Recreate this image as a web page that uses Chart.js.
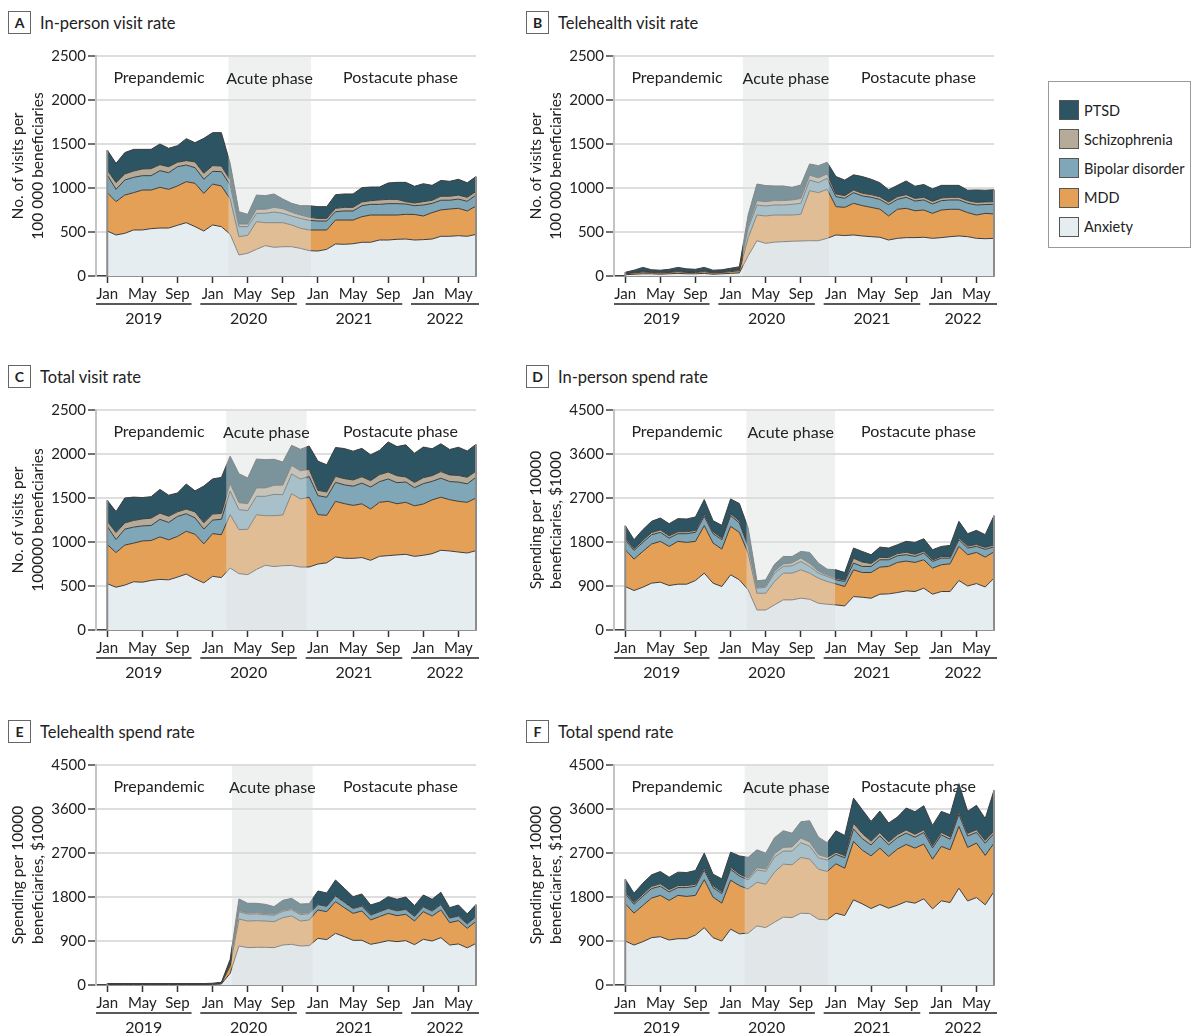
<!DOCTYPE html>
<html><head><meta charset="utf-8">
<script src="https://cdn.jsdelivr.net/npm/chart.js@4.4.1/dist/chart.umd.min.js"></script>
<style>
body{margin:0;background:#fff;width:1191px;height:1036px;position:relative;overflow:hidden;font-family:Lato,'Noto Sans',sans-serif;color:#222}
.ptitle{position:absolute;display:flex;align-items:center;font-size:16.5px;height:23px;white-space:nowrap}
.ptitle .box{width:21px;height:21px;border:1px solid #666;display:flex;align-items:center;justify-content:center;font-weight:bold;font-size:14px;margin-right:9px}
canvas{position:absolute}
.legend{position:absolute;left:1048px;top:81px;width:143px;height:167px;border:1px solid #9a9a9a;box-sizing:border-box}
.legend .item{position:absolute;left:10px;display:flex;align-items:center;font-size:14.5px;height:20px;white-space:nowrap}
.legend .sw{width:18px;height:18px;border:1px solid #555;margin-right:5px}
</style></head>
<body>
<div class="ptitle" style="left:8px;top:11px"><div class="box">A</div>In-person visit rate</div>
<div class="ptitle" style="left:526px;top:11px"><div class="box">B</div>Telehealth visit rate</div>
<div class="ptitle" style="left:8px;top:365px"><div class="box">C</div>Total visit rate</div>
<div class="ptitle" style="left:526px;top:365px"><div class="box">D</div>In-person spend rate</div>
<div class="ptitle" style="left:8px;top:720px"><div class="box">E</div>Telehealth spend rate</div>
<div class="ptitle" style="left:526px;top:720px"><div class="box">F</div>Total spend rate</div>

<canvas id="cA" width="500" height="300" style="left:0;top:40px"></canvas>
<canvas id="cB" width="500" height="300" style="left:518px;top:40px"></canvas>
<canvas id="cC" width="500" height="300" style="left:0;top:394px"></canvas>
<canvas id="cD" width="500" height="300" style="left:518px;top:394px"></canvas>
<canvas id="cE" width="500" height="300" style="left:0;top:749px"></canvas>
<canvas id="cF" width="500" height="300" style="left:518px;top:749px"></canvas>

<div class="legend" id="legend"></div>

<script>
// ---------- categories ----------
const monthLabels = ['Jan 2019','Feb 2019','Mar 2019','Apr 2019','May 2019','Jun 2019','Jul 2019','Aug 2019','Sep 2019','Oct 2019','Nov 2019','Dec 2019',
 'Jan 2020','Feb 2020','Mar 2020','Apr 2020','May 2020','Jun 2020','Jul 2020','Aug 2020','Sep 2020','Oct 2020','Nov 2020','Dec 2020',
 'Jan 2021','Feb 2021','Mar 2021','Apr 2021','May 2021','Jun 2021','Jul 2021','Aug 2021','Sep 2021','Oct 2021','Nov 2021','Dec 2021',
 'Jan 2022','Feb 2022','Mar 2022','Apr 2022','May 2022','Jun 2022','Jul 2022'];
const monthNames = ['Jan','Feb','Mar','Apr','May','Jun','Jul','Aug','Sep','Oct','Nov','Dec'];
const tickMonths = [0,4,8,12,16,20,24,28,32,36,40];
const yearLabels = ['2019','2020','2021','2022'];
const seriesNames = ['Anxiety','MDD','Bipolar disorder','Schizophrenia','PTSD'];
const visitTicks = [0,500,1000,1500,2000,2500];
const spendTicks = [0,900,1800,2700,3600,4500];

// ---------- A: in-person visit rate ----------
const aAnxiety = [511,466,485,523,523,538,545,545,576,606,561,511,580,561,474,239,258,303,345,326,333,333,314,288,284,303,364,360,367,383,383,409,409,417,420,409,413,420,451,451,458,451,473];
const aMDD = [436,379,435,424,454,439,463,440,447,466,492,428,465,462,401,208,204,314,261,280,273,247,228,235,239,220,272,276,269,291,310,284,284,276,281,290,269,300,300,310,311,288,322];
const aBipolar = [201,140,171,174,163,163,189,189,219,189,178,160,144,163,159,114,99,95,106,121,106,102,113,110,102,102,95,103,103,125,121,121,129,129,117,100,125,105,110,100,105,110,125];
const aSchizophrenia = [57,76,68,72,76,80,68,68,50,50,65,68,65,64,57,30,30,46,46,53,53,42,38,34,30,30,38,41,41,42,42,50,49,49,27,30,38,35,45,45,45,45,40];
const aPTSD = [227,219,243,246,223,219,235,209,189,250,219,397,375,379,189,140,110,162,155,152,110,102,106,132,133,133,155,152,152,163,155,147,186,193,219,190,204,170,180,170,180,165,170];

// ---------- B: telehealth visit rate ----------
const bAnxiety = [15,20,25,25,20,25,30,25,25,30,20,25,30,35,230,401,371,385,390,395,398,401,401,428,466,460,466,455,447,440,409,428,436,436,440,428,436,447,455,447,428,424,428];
const bMDD = [10,15,20,15,15,15,20,15,15,20,15,15,20,25,205,292,311,308,303,298,303,569,546,557,322,320,360,345,333,320,273,330,333,306,310,284,314,311,303,273,265,288,277];
const bBipolar = [5,8,10,8,8,8,10,8,8,10,8,8,10,12,110,114,113,114,114,121,125,121,114,125,114,103,121,110,115,110,129,113,125,110,114,106,106,106,106,106,114,100,110];
const bSchizophrenia = [2,3,3,3,3,3,3,3,3,3,3,3,3,3,30,49,50,50,50,50,55,55,55,50,30,30,30,30,30,30,30,30,30,30,30,30,30,30,30,30,30,30,30];
const bPTSD = [10,20,40,20,20,25,35,30,25,35,20,20,25,30,120,189,182,166,166,144,153,127,138,132,198,177,173,190,175,160,139,129,156,138,146,142,144,136,136,119,141,133,135];

// ---------- C: total visit rate ----------
const cAnxiety = [526,486,510,548,543,563,575,570,601,636,581,536,610,596,704,640,629,688,735,721,731,734,715,716,750,763,830,815,814,823,792,837,845,853,860,837,849,867,906,898,886,875,901];
const cMDD = [446,394,455,439,469,454,483,455,462,486,507,443,485,487,606,500,515,622,564,578,576,816,774,792,561,540,632,621,602,611,583,614,617,582,591,574,583,611,603,583,576,576,599];
const cBipolar = [206,148,181,182,171,171,199,197,227,199,186,168,154,175,269,228,212,209,220,242,231,223,227,235,216,205,216,213,218,235,250,234,254,239,231,206,231,211,216,206,219,210,235];
const cSchizophrenia = [59,79,71,75,79,83,71,71,53,53,68,71,68,67,87,79,80,96,96,103,108,97,93,84,60,60,68,71,71,72,72,80,79,79,57,60,68,65,75,75,75,75,70];
const cPTSD = [237,239,283,266,243,244,270,239,214,285,239,417,400,409,309,329,292,328,321,296,263,229,244,264,331,310,328,342,327,323,294,276,342,331,365,332,348,306,316,289,321,298,305];

// ---------- D: in-person spend rate ----------
const dAnxiety = [889,807,875,958,978,910,937,937,1012,1163,958,889,1129,1026,821,410,410,513,616,616,650,629,547,527,513,492,684,670,650,732,739,766,800,787,855,732,787,787,1012,900,950,880,1060];
const dMDD = [753,643,732,800,835,800,876,855,801,971,820,766,991,971,752,342,342,479,547,547,581,534,513,465,431,397,547,506,526,554,561,616,609,595,581,533,547,567,698,639,637,610,540];
const dBipolar = [205,178,185,191,184,171,157,178,184,192,192,192,220,192,137,103,123,171,137,150,171,137,103,102,82,103,137,124,124,150,136,136,130,123,137,137,136,116,137,137,123,160,100];
const dSchizophrenia = [40,35,40,45,50,45,40,40,40,45,40,35,40,40,30,20,25,40,50,60,70,60,40,30,30,30,100,90,60,50,45,45,50,45,40,30,35,35,40,40,40,40,40];
const dPTSD = [247,184,220,229,244,249,268,261,275,297,227,259,301,357,346,130,126,140,155,130,135,227,165,121,175,154,208,217,179,210,195,181,224,242,254,210,205,225,336,254,288,260,600];

// ---------- E: telehealth spend rate ----------
const eAnxiety = [10,10,10,10,10,10,10,10,10,10,10,10,12,20,240,798,764,771,771,764,818,832,798,805,955,928,1057,989,914,914,832,866,907,887,907,825,934,900,968,818,839,760,850];
const eMDD = [10,10,10,10,10,10,10,10,10,10,10,10,12,15,150,552,545,545,538,532,560,580,511,525,580,572,648,593,552,600,498,532,559,531,539,484,566,512,567,457,477,400,450];
const eBipolar = [3,3,3,3,3,3,3,3,3,3,3,3,3,5,50,150,140,140,130,130,130,130,130,130,110,110,120,110,100,100,100,100,100,100,100,95,100,100,110,95,95,90,100];
const eSchizophrenia = [1,1,1,1,1,1,1,1,1,1,1,1,1,2,5,25,25,25,25,25,25,25,25,25,15,15,15,15,15,15,15,15,15,15,15,15,15,15,15,15,15,15,15];
const ePTSD = [6,6,6,6,6,6,6,6,6,6,6,6,8,13,80,235,197,190,186,152,199,206,193,179,263,257,308,271,226,233,192,179,226,220,239,204,226,226,236,197,211,190,230];

// ---------- F: total spend rate ----------
const fAnxiety = [899,817,885,968,988,920,947,947,1022,1173,968,899,1141,1046,1061,1208,1174,1284,1387,1380,1468,1461,1345,1332,1468,1420,1741,1659,1564,1646,1571,1632,1707,1674,1762,1557,1721,1687,1980,1718,1789,1640,1910];
const fMDD = [763,653,742,810,845,810,886,865,811,981,830,776,1003,986,902,894,887,1024,1085,1079,1141,1114,1024,990,1011,969,1195,1099,1078,1154,1059,1148,1168,1126,1120,1017,1113,1079,1265,1096,1114,1010,990];
const fBipolar = [208,181,188,194,187,174,160,181,187,195,195,195,223,197,187,253,263,311,267,280,301,267,233,232,192,213,257,234,224,250,236,236,230,223,237,232,236,216,247,232,218,250,200];
const fSchizophrenia = [41,36,41,46,51,46,41,41,41,46,41,36,41,42,35,45,50,65,75,85,95,85,65,55,45,45,115,105,75,65,60,60,65,60,55,45,50,50,55,55,55,55,55];
const fPTSD = [253,190,226,235,250,255,274,267,281,303,233,265,309,370,426,365,323,330,341,282,334,433,358,300,438,411,516,488,405,443,387,360,450,462,493,414,431,451,572,451,499,450,830];

// ---------- styling ----------
const FONT = "Lato, 'Noto Sans', sans-serif";
const TXT = '#222';
const fillColors = ['#e6edf1','#e3a056','#7fa7b7','#b5ab98','#2d5462'];

const phasePlugin = {
  id: 'phases',
  beforeDatasetsDraw(chart, args, opts) {
    const {ctx, chartArea: ca, scales: {x}} = chart;
    ctx.save();
    ctx.font = '16px ' + FONT; ctx.fillStyle = TXT; ctx.textAlign = 'center'; ctx.textBaseline = 'middle';
    ctx.fillText('Prepandemic', x.getPixelForValue(opts.pre), ca.top + 22);
    ctx.fillText('Postacute phase', x.getPixelForValue(opts.post), ca.top + 22);
    ctx.restore();
  },
  afterDatasetsDraw(chart, args, opts) {
    const {ctx, chartArea: ca, scales: {x}} = chart;
    ctx.save();
    const topPts = chart.getDatasetMeta(chart.data.datasets.length - 1).data;
    const p0 = topPts[0], p1 = topPts[topPts.length - 1];
    ctx.strokeStyle = '#8c8c8c'; ctx.lineWidth = 2;
    ctx.beginPath();
    ctx.moveTo(p0.x, ca.bottom); ctx.lineTo(p0.x, p0.y);
    ctx.moveTo(p1.x, ca.bottom); ctx.lineTo(p1.x, p1.y);
    ctx.stroke();
    const x0 = x.getPixelForValue(opts.acute[0]), x1 = x.getPixelForValue(opts.acute[1]);
    ctx.fillStyle = 'rgba(220,224,224,0.45)';
    ctx.fillRect(x0, ca.top, x1 - x0, ca.bottom - ca.top);
    ctx.font = '16px ' + FONT; ctx.fillStyle = TXT; ctx.textAlign = 'center'; ctx.textBaseline = 'middle';
    ctx.fillText('Acute phase', (x0 + x1) / 2, ca.top + 23);
    ctx.restore();
  },
  afterDraw(chart) {
    const {ctx, chartArea: ca, scales: {x}} = chart;
    ctx.save();
    ctx.strokeStyle = '#222'; ctx.lineWidth = 1.5;
    ctx.font = '16px ' + FONT; ctx.fillStyle = TXT; ctx.textAlign = 'center'; ctx.textBaseline = 'middle';
    yearLabels.forEach((yr, k) => {
      const x0 = Math.max(x.getPixelForValue(12 * k - 1.4), ca.left);
      const x1 = Math.min(x.getPixelForValue(12 * k + 9.6), ca.right + 3);
      ctx.beginPath(); ctx.moveTo(x0, ca.bottom + 28); ctx.lineTo(x1, ca.bottom + 28); ctx.stroke();
      ctx.fillText(yr, (x0 + x1) / 2, ca.bottom + 43);
    });
    ctx.restore();
  }
};

function makeChart(id, series, yTicks, yTitle, acute) {
  const datasets = series.map((vals, k) => ({
    label: seriesNames[k],
    data: monthLabels.map((m, i) => ({x: i, y: vals[i]})),
    backgroundColor: fillColors[k],
    borderColor: '#3d3d3d',
    borderWidth: 1,
    fill: k === 0 ? 'origin' : '-1',
    pointRadius: 0,
    tension: 0
  }));
  new Chart(document.getElementById(id), {
    type: 'line',
    data: {datasets},
    options: {
      responsive: false, animation: false, events: [],
      layout: {padding: {left: 0, right: 24, top: 16, bottom: 0}},
      plugins: {legend: {display: false}, tooltip: {enabled: false},
        phases: {pre: 5.9, post: 33.4, acute}},
      scales: {
        x: {
          type: 'linear', min: -1.28, max: 42, z: 1,
          afterBuildTicks: s => { s.ticks = tickMonths.map(v => ({value: v})); },
          afterFit: s => { s.height = 64; },
          ticks: {callback: v => monthNames[v % 12], font: {family: FONT, size: 15}, color: TXT, padding: 2, maxRotation: 0, autoSkip: false},
          grid: {drawOnChartArea: false, drawTicks: true, tickLength: 7, tickColor: '#333', tickWidth: 1.5},
          border: {display: true, color: '#444', width: 1.5}
        },
        y: {
          stacked: true, min: yTicks[0], max: yTicks[yTicks.length - 1],
          afterBuildTicks: s => { s.ticks = yTicks.map(v => ({value: v})); },
          afterFit: s => { s.width = 96; },
          ticks: {callback: v => String(v), font: {family: FONT, size: 15}, color: TXT, padding: 2},
          grid: {color: '#dedede', lineWidth: 2, drawTicks: true, tickLength: 8, tickColor: '#444', tickWidth: 1.5},
          border: {display: true, color: '#c4c4c4', width: 2},
          title: {display: true, text: yTitle, color: TXT, font: {family: FONT, size: 15.5, lineHeight: 1.3}, padding: {top: 8, bottom: 0}}
        }
      }
    },
    plugins: [phasePlugin]
  });
}

const visitTitleA = ['No. of visits per', '100 000 beneficiaries'];
const visitTitleC = ['No. of visits per', '100000 beneficiaries'];
const spendTitle = ['Spending per 10000', 'beneficiaries, $1000'];

makeChart('cA', [aAnxiety, aMDD, aBipolar, aSchizophrenia, aPTSD], visitTicks, visitTitleA, [13.8, 23.2]);
makeChart('cB', [bAnxiety, bMDD, bBipolar, bSchizophrenia, bPTSD], visitTicks, visitTitleA, [13.4, 23.2]);
makeChart('cC', [cAnxiety, cMDD, cBipolar, cSchizophrenia, cPTSD], visitTicks, visitTitleC, [13.55, 22.7]);
makeChart('cD', [dAnxiety, dMDD, dBipolar, dSchizophrenia, dPTSD], spendTicks, spendTitle, [13.8, 23.9]);
makeChart('cE', [eAnxiety, eMDD, eBipolar, eSchizophrenia, ePTSD], spendTicks, spendTitle, [14.2, 23.4]);
makeChart('cF', [fAnxiety, fMDD, fBipolar, fSchizophrenia, fPTSD], spendTicks, spendTitle, [13.6, 23.1]);

const legend = document.getElementById('legend');
const legendOrder = [4, 3, 2, 1, 0];
legendOrder.forEach((k, r) => {
  const it = document.createElement('div');
  it.className = 'item';
  it.style.top = (18 + r * 29.2) + 'px';
  it.innerHTML = '<div class="sw" style="background:' + fillColors[k] + '"></div><span>' + seriesNames[k] + '</span>';
  legend.appendChild(it);
});
</script>
</body></html>
